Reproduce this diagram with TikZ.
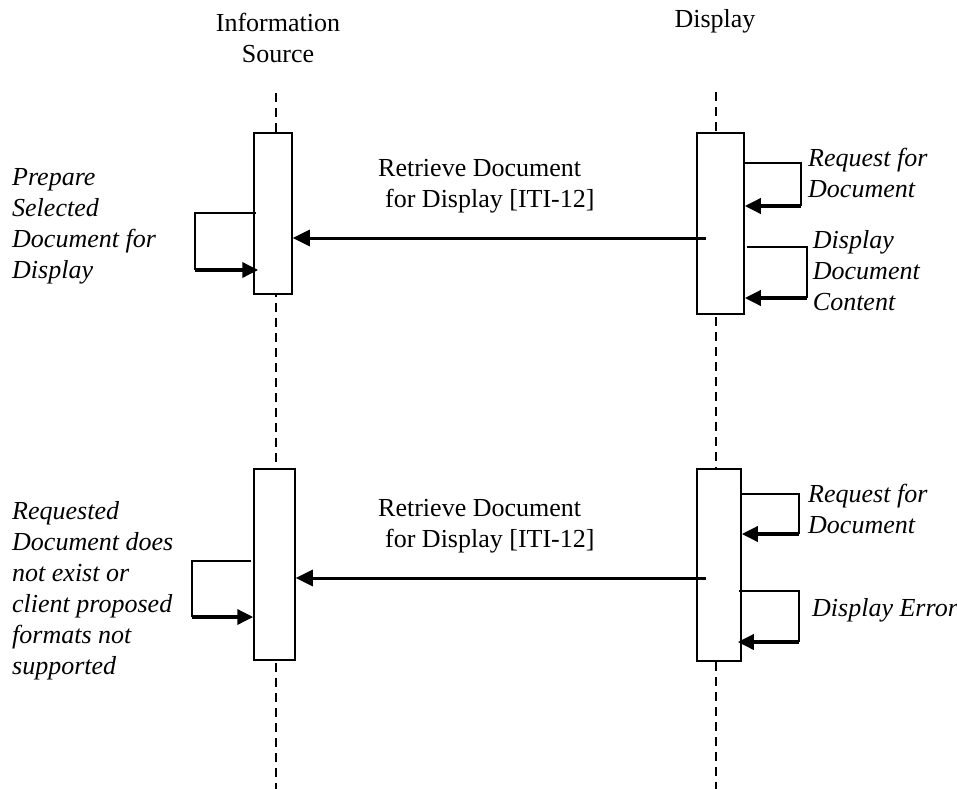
\documentclass[tikz,border=0pt]{standalone}
\usepackage{fontspec}
\setmainfont{Liberation Serif}
\usetikzlibrary{arrows.meta}
\begin{document}
\begin{tikzpicture}[x=1pt,y=-1pt,
  lbl/.style={inner sep=0pt, font=\fontsize{26}{31}\selectfont},
  rlbl/.style={inner sep=0pt, font=\fontsize{26}{31}\selectfont, align=left, anchor=base west},
  ilbl/.style={inner sep=0pt, font=\fontsize{26}{31}\selectfont\itshape, align=left, anchor=base west},
  life/.style={line width=2pt, dash pattern=on 9pt off 6pt},
  actbox/.style={draw, fill=white, line width=1.5pt, minimum width=#1, inner sep=0pt},
  thin/.style={line width=1.5pt},
  selfarrow/.style={line width=3.5pt, -{Triangle[length=16pt,width=15pt]}},
  msg/.style={line width=3pt, -{Triangle[length=17pt,width=16pt]}}]
\useasboundingbox (0,0) rectangle (957,789);
% headers (anchor base = baseline of the last line)
\node[lbl, align=center, anchor=base] (hIS) at (278,63) {Information\\Source};
\node[lbl, anchor=base] (hD) at (715,28) {Display};
% lifelines
\coordinate (lt) at (276,93);
\coordinate (lb) at (276,789);
\coordinate (rt) at (716,92);
\coordinate (rb) at (716,789);
\draw[life] (lt) -- (lb);
\draw[life] (rt) -- (rb);
% activation boxes
\node[actbox=38pt, minimum height=161pt] (IS1) at (273,213.5) {};
\node[actbox=41pt, minimum height=191pt] (IS2) at (274.5,564.5) {};
\node[actbox=47pt, minimum height=181pt] (D1) at (720.5,223.5) {};
\node[actbox=44pt, minimum height=192pt] (D2) at (719,565) {};
% messages
\coordinate (m1) at (706,238);
\coordinate (m2) at (706,578);
\draw[msg] (m1) -- (IS1.east |- m1);
\draw[msg] (m2) -- (IS2.east |- m2);
\node[rlbl] (t1) at (378,207.7) {Retrieve Document\\\hspace*{7pt}for Display [ITI-12]};
\node[rlbl] (t2) at (378,547) {Retrieve Document\\\hspace*{7pt}for Display [ITI-12]};
% self loops: information source
\draw[thin] (256,213) -- (195,213) -- (195,270);
\draw[selfarrow] (195,270) -- ([xshift=5pt]IS1.west |- 0,270);
\draw[thin] (251,561) -- (192,561) -- (192,617);
\draw[selfarrow] (192,617) -- (IS2.west |- 0,617);
% self loops: display
\draw[thin] (D1.east |- 0,163) -- (801,163) -- (801,206);
\draw[selfarrow] (801,206) -- (D1.east |- 0,206);
\draw[thin] (747,247) -- (807,247) -- (807,298);
\draw[selfarrow] (807,298) -- (D1.east |- 0,298);
\draw[thin] (D2.east |- 0,494) -- (799,494) -- (799,534);
\draw[selfarrow] (799,534) -- (D2.east |- 0,534);
\draw[thin] (739,591) -- (799,591) -- (799,642);
\draw[selfarrow] (799,642) -- ([xshift=-4pt]D2.east |- 0,642);
% labels (anchor base west = baseline of the last line)
\node[ilbl] (a1) at (12,278) {Prepare\\Selected\\Document for\\Display};
\node[ilbl] (a2) at (12,674) {Requested\\Document does\\not exist or\\client proposed\\formats not\\supported};
\node[ilbl] (b1) at (808,197) {Request for\\Document};
\node[ilbl] (b2) at (812.7,310) {Display\\Document\\Content};
\node[ilbl] (b3) at (808,533) {Request for\\Document};
\node[ilbl] (b4) at (812,616) {Display Error};
\end{tikzpicture}
\end{document}
